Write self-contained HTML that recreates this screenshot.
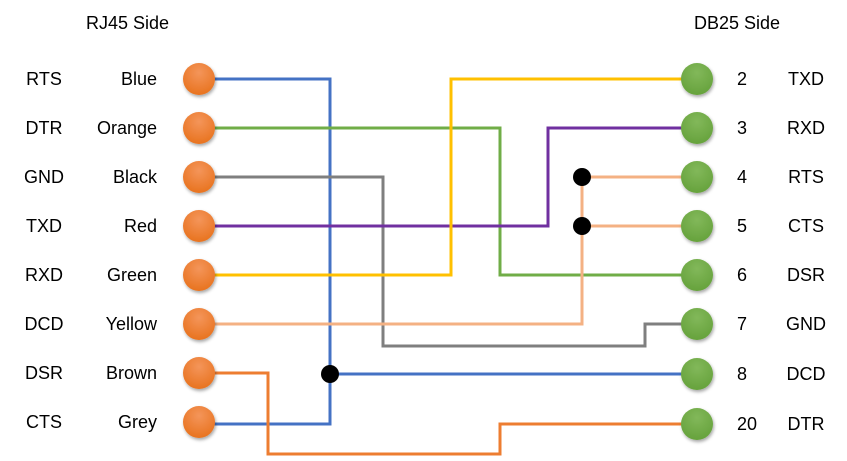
<!DOCTYPE html>
<html><head><meta charset="utf-8"><style>
body{margin:0;background:#fff;}
svg text{font-family:"Liberation Sans",sans-serif;font-size:18px;fill:#000;}
</style></head><body>
<svg width="847" height="456" viewBox="0 0 847 456" xmlns="http://www.w3.org/2000/svg">
<defs>
<radialGradient id="og" cx="50%" cy="30%" r="70%"><stop offset="0" stop-color="#f4955a"/><stop offset="1" stop-color="#e8731f"/></radialGradient>
<radialGradient id="gg" cx="50%" cy="30%" r="70%"><stop offset="0" stop-color="#82b85a"/><stop offset="1" stop-color="#66a23c"/></radialGradient>
<filter id="sh" x="-30%" y="-30%" width="160%" height="160%"><feDropShadow dx="1" dy="2" stdDeviation="1.5" flood-color="#000" flood-opacity="0.35"/></filter>
</defs>
<g fill="none" stroke-width="3">
<polyline stroke="#4472c4" points="199,79 330,79 330,424 199,424"/>
<polyline stroke="#4472c4" points="330,374 697,374"/>
<polyline stroke="#70ad47" points="199,128 500,128 500,275 697,275"/>
<polyline stroke="#7f7f7f" points="199,177 383,177 383,346 645,346 645,324 697,324"/>
<polyline stroke="#7030a0" points="199,226 548,226 548,128 697,128"/>
<polyline stroke="#ffc000" points="199,275 451,275 451,79 697,79"/>
<polyline stroke="#f4b183" points="199,324 582,324 582,177 697,177"/>
<polyline stroke="#f4b183" points="582,226 697,226"/>
<polyline stroke="#ed7d31" points="199,373 268,373 268,454 500,454 500,424 697,424"/>
</g>
<circle cx="330" cy="374" r="9" fill="#000"/>
<circle cx="582" cy="177" r="9" fill="#000"/>
<circle cx="582" cy="226" r="9" fill="#000"/>
<g filter="url(#sh)">
<g fill="url(#og)">
<circle cx="199" cy="79" r="16"/><circle cx="199" cy="128" r="16"/><circle cx="199" cy="177" r="16"/><circle cx="199" cy="226" r="16"/>
<circle cx="199" cy="275" r="16"/><circle cx="199" cy="324" r="16"/><circle cx="199" cy="373" r="16"/><circle cx="199" cy="422" r="16"/>
</g>
<g fill="url(#gg)">
<circle cx="697" cy="79" r="16"/><circle cx="697" cy="128" r="16"/><circle cx="697" cy="177" r="16"/><circle cx="697" cy="226" r="16"/>
<circle cx="697" cy="275" r="16"/><circle cx="697" cy="324" r="16"/><circle cx="697" cy="374" r="16"/><circle cx="697" cy="424" r="16"/>
</g>
</g>
<text x="86" y="29">RJ45 Side</text>
<text x="694" y="29">DB25 Side</text>
<g text-anchor="middle">
<text x="44" y="85">RTS</text><text x="44" y="134">DTR</text><text x="44" y="183">GND</text><text x="44" y="232">TXD</text>
<text x="44" y="281">RXD</text><text x="44" y="330">DCD</text><text x="44" y="379">DSR</text><text x="44" y="428">CTS</text>
</g>
<g text-anchor="end">
<text x="157" y="85">Blue</text><text x="157" y="134">Orange</text><text x="157" y="183">Black</text><text x="157" y="232">Red</text>
<text x="157" y="281">Green</text><text x="157" y="330">Yellow</text><text x="157" y="379">Brown</text><text x="157" y="428">Grey</text>
</g>
<g>
<text x="737" y="85">2</text><text x="737" y="134">3</text><text x="737" y="183">4</text><text x="737" y="232">5</text>
<text x="737" y="281">6</text><text x="737" y="330">7</text><text x="737" y="380">8</text><text x="737" y="430">20</text>
</g>
<g text-anchor="middle">
<text x="806" y="85">TXD</text><text x="806" y="134">RXD</text><text x="806" y="183">RTS</text><text x="806" y="232">CTS</text>
<text x="806" y="281">DSR</text><text x="806" y="330">GND</text><text x="806" y="380">DCD</text><text x="806" y="430">DTR</text>
</g>
</svg>
</body></html>
